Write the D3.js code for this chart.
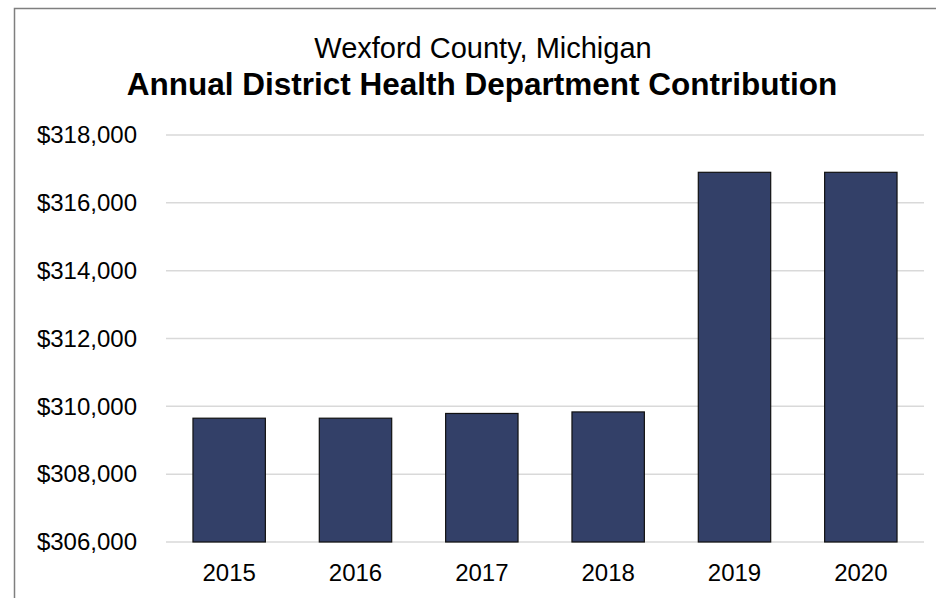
<!DOCTYPE html>
<html>
<head>
<meta charset="utf-8">
<script src="https://cdn.jsdelivr.net/npm/d3@7/dist/d3.min.js"></script>
<style>
  html, body { margin: 0; padding: 0; background: #ffffff; }
  svg { display: block; font-family: "Liberation Sans", Arial, sans-serif; }
</style>
</head>
<body>
<svg id="chart" width="936" height="598"></svg>
<script>
// Annual contribution to the district health department, by year
const years = ["2015", "2016", "2017", "2018", "2019", "2020"];
const contributions = [309650, 309650, 309790, 309835, 316900, 316900];
const yTicks = [306000, 308000, 310000, 312000, 314000, 316000, 318000];

const svg = d3.select("#chart");
const W = 936, H = 598;
const plot = { left: 166, right: 924, top: 135, bottom: 542 };

// outer frame of the chart area
svg.append("rect")
  .attr("x", 14.5).attr("y", 8.5)
  .attr("width", W).attr("height", H)
  .attr("fill", "#ffffff")
  .attr("stroke", "#7f7f7f").attr("stroke-width", 1.5);

const x = d3.scaleBand()
  .domain(years)
  .range([plot.left, plot.right])
  .paddingInner(0.427)
  .paddingOuter(0.2135);

const y = d3.scaleLinear()
  .domain([yTicks[0], yTicks[yTicks.length - 1]])
  .range([plot.bottom, plot.top]);

// horizontal gridlines
svg.append("g")
  .selectAll("line")
  .data(yTicks)
  .join("line")
  .attr("x1", plot.left).attr("x2", plot.right)
  .attr("y1", d => y(d)).attr("y2", d => y(d))
  .attr("stroke", "#d9d9d9").attr("stroke-width", 1.5);

// y axis labels
const fmt = d3.format("$,");
const yAxis = svg.append("g")
  .attr("transform", `translate(${plot.left - 29},0)`)
  .call(d3.axisLeft(y).tickValues(yTicks).tickFormat(fmt).tickSize(0).tickPadding(0));
yAxis.select(".domain").remove();
yAxis.selectAll("text")
  .attr("font-size", 24)
  .attr("fill", "#000000")
  .attr("font-family", "'Liberation Sans', Arial, sans-serif");

// bars
svg.append("g")
  .selectAll("rect")
  .data(years.map((yr, i) => ({ yr, v: contributions[i] })))
  .join("rect")
  .attr("x", d => x(d.yr))
  .attr("y", d => y(d.v))
  .attr("width", x.bandwidth())
  .attr("height", d => y(yTicks[0]) - y(d.v))
  .attr("fill", "#334068")
  .attr("stroke", "#111111").attr("stroke-width", 1.2);

// x axis labels
const xAxis = svg.append("g")
  .attr("transform", `translate(0,${plot.bottom})`)
  .call(d3.axisBottom(x).tickSize(0).tickPadding(22));
xAxis.select(".domain").remove();
xAxis.selectAll("text")
  .attr("font-size", 24)
  .attr("fill", "#000000")
  .attr("font-family", "'Liberation Sans', Arial, sans-serif");

// titles
svg.append("text")
  .attr("x", 483).attr("y", 57.5)
  .attr("text-anchor", "middle")
  .attr("font-size", 29)
  .attr("fill", "#000000")
  .text("Wexford County, Michigan");

svg.append("text")
  .attr("x", 482).attr("y", 95)
  .attr("text-anchor", "middle")
  .attr("font-size", 31.5)
  .attr("font-weight", "bold")
  .attr("fill", "#000000")
  .text("Annual District Health Department Contribution");
</script>
</body>
</html>
